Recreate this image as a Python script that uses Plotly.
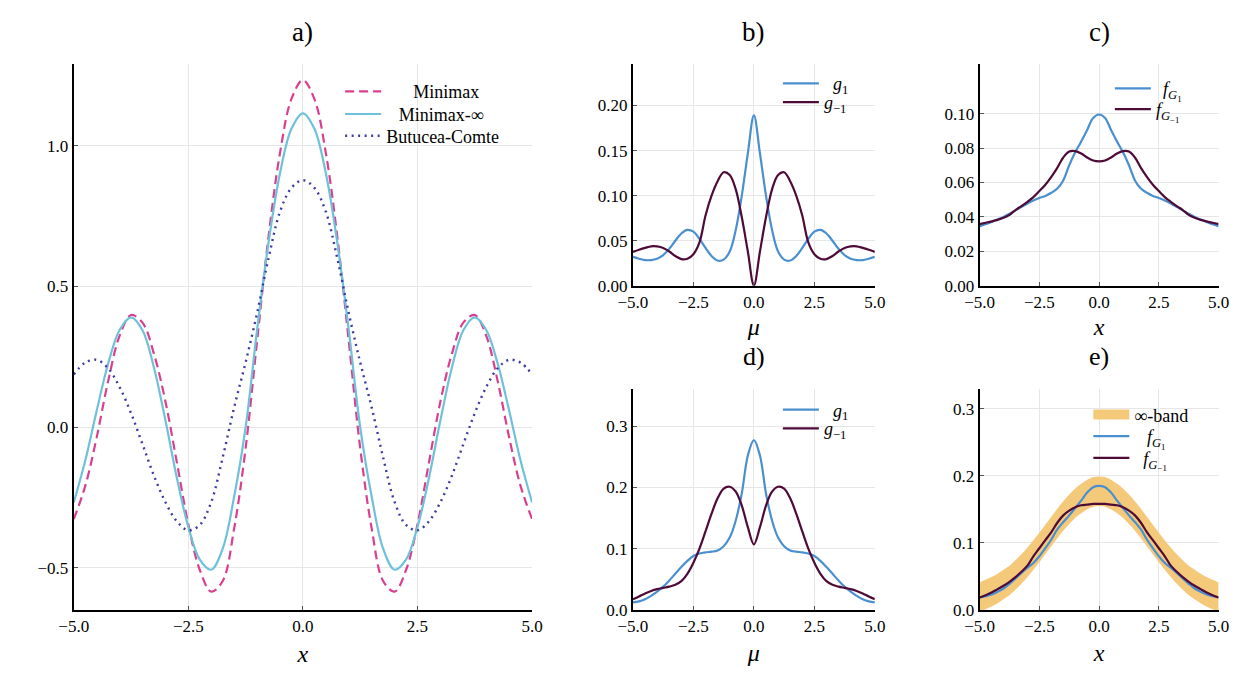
import plotly.graph_objects as go

# ---------------- data ----------------
x_grid = [-5.0, -4.75, -4.5, -4.25, -4.0, -3.75, -3.5, -3.25, -3.0, -2.75, -2.5, -2.25, -2.0, -1.75, -1.5, -1.25,
          -1.0, -0.75, -0.5, -0.25, 0.0, 0.25, 0.5, 0.75, 1.0, 1.25, 1.5, 1.75, 2.0, 2.25, 2.5, 2.75, 3.0, 3.25,
          3.5, 3.75, 4.0, 4.25, 4.5, 4.75, 5.0]

# panel a)
minimax = [-0.327, -0.210, -0.037, 0.163, 0.324, 0.398, 0.371, 0.260, 0.091, -0.126, -0.346, -0.508, -0.585, -0.547,
           -0.360, -0.075, 0.306, 0.677, 0.974, 1.166, 1.233, 1.166, 0.974, 0.677, 0.306, -0.075, -0.360, -0.547,
           -0.585, -0.508, -0.346, -0.126, 0.091, 0.260, 0.371, 0.398, 0.324, 0.163, -0.037, -0.210, -0.327]
minimax_inf = [-0.268, -0.120, 0.058, 0.225, 0.345, 0.390, 0.344, 0.211, 0.024, -0.181, -0.355, -0.471, -0.507, -0.432,
               -0.247, 0.000, 0.345, 0.656, 0.902, 1.060, 1.115, 1.060, 0.902, 0.656, 0.345, 0.000, -0.247, -0.432,
               -0.507, -0.471, -0.355, -0.181, 0.024, 0.211, 0.344, 0.390, 0.345, 0.225, 0.058, -0.120, -0.268]
butucea_comte = [0.187, 0.229, 0.239, 0.209, 0.142, 0.049, -0.061, -0.173, -0.267, -0.335, -0.367, -0.348, -0.266,
                 -0.108, 0.070, 0.230, 0.405, 0.600, 0.765, 0.850, 0.877, 0.850, 0.765, 0.600, 0.405, 0.230, 0.070,
                 -0.108, -0.266, -0.348, -0.367, -0.335, -0.267, -0.173, -0.061, 0.049, 0.142, 0.209, 0.239, 0.229,
                 0.187]

# panel b)
g1_b = [0.032, 0.030, 0.0285, 0.0285, 0.030, 0.034, 0.041, 0.050, 0.058, 0.062, 0.060, 0.052, 0.042, 0.033, 0.028,
        0.029, 0.038, 0.062, 0.100, 0.147, 0.189, 0.147, 0.100, 0.062, 0.038, 0.029, 0.028, 0.033, 0.042, 0.052,
        0.060, 0.062, 0.058, 0.050, 0.041, 0.034, 0.030, 0.0285, 0.0285, 0.030, 0.032]
gm1_b = [0.0376, 0.040, 0.042, 0.0438, 0.0437, 0.042, 0.038, 0.033, 0.0296, 0.030, 0.035, 0.048, 0.078, 0.100, 0.116,
         0.126, 0.123, 0.107, 0.076, 0.038, 0.000, 0.038, 0.076, 0.107, 0.123, 0.126, 0.116, 0.100, 0.078, 0.048,
         0.035, 0.030, 0.0296, 0.033, 0.038, 0.042, 0.0437, 0.0438, 0.042, 0.040, 0.0376]

# panel c)
fg1_c = [0.0345, 0.0357, 0.0370, 0.0385, 0.0400, 0.0418, 0.0438, 0.0458, 0.0478, 0.0495, 0.0510, 0.0522, 0.0540,
         0.0565, 0.0612, 0.0700, 0.0775, 0.0838, 0.0905, 0.0975, 0.0995, 0.0975, 0.0905, 0.0838, 0.0775, 0.0700,
         0.0612, 0.0565, 0.0540, 0.0522, 0.0510, 0.0495, 0.0478, 0.0458, 0.0438, 0.0418, 0.0400, 0.0385, 0.0370,
         0.0357, 0.0345]
fgm1_c = [0.0358, 0.0366, 0.0374, 0.0383, 0.0395, 0.0412, 0.0440, 0.0463, 0.0488, 0.0515, 0.0550, 0.0587, 0.0633,
          0.0685, 0.0745, 0.0780, 0.0782, 0.0768, 0.0745, 0.0728, 0.0723, 0.0728, 0.0745, 0.0768, 0.0782, 0.0780,
          0.0745, 0.0685, 0.0633, 0.0587, 0.0550, 0.0515, 0.0488, 0.0463, 0.0440, 0.0412, 0.0395, 0.0383, 0.0374,
          0.0366, 0.0358]

# panel d)
g1_d = [0.0123, 0.014, 0.0175, 0.023, 0.030, 0.038, 0.048, 0.059, 0.070, 0.080, 0.088, 0.092, 0.094, 0.095, 0.097,
        0.104, 0.118, 0.146, 0.190, 0.252, 0.277, 0.252, 0.190, 0.146, 0.118, 0.104, 0.097, 0.095, 0.094, 0.092,
        0.088, 0.080, 0.070, 0.059, 0.048, 0.038, 0.030, 0.023, 0.0175, 0.014, 0.0123]
gm1_d = [0.0176, 0.022, 0.027, 0.031, 0.034, 0.036, 0.038, 0.041, 0.047, 0.059, 0.077, 0.100, 0.128, 0.157, 0.182,
         0.198, 0.201, 0.193, 0.170, 0.135, 0.107, 0.135, 0.170, 0.193, 0.201, 0.198, 0.182, 0.157, 0.128, 0.100,
         0.077, 0.059, 0.047, 0.041, 0.038, 0.036, 0.034, 0.031, 0.027, 0.022, 0.0176]

# panel e)
band_upper = [0.041, 0.045, 0.049, 0.054, 0.060, 0.066, 0.074, 0.083, 0.093, 0.104, 0.115, 0.127, 0.139, 0.151, 0.162,
              0.172, 0.181, 0.188, 0.194, 0.198, 0.199, 0.198, 0.194, 0.188, 0.181, 0.172, 0.162, 0.151, 0.139, 0.127,
              0.115, 0.104, 0.093, 0.083, 0.074, 0.066, 0.060, 0.054, 0.049, 0.045, 0.041]
band_lower = [-0.003, 0.001, 0.005, 0.010, 0.016, 0.022, 0.030, 0.039, 0.049, 0.060, 0.071, 0.083, 0.095, 0.107, 0.118,
              0.128, 0.137, 0.144, 0.150, 0.154, 0.155, 0.154, 0.150, 0.144, 0.137, 0.128, 0.118, 0.107, 0.095, 0.083,
              0.071, 0.060, 0.049, 0.039, 0.030, 0.022, 0.016, 0.010, 0.005, 0.001, -0.003]
fg1_e = [0.0186, 0.0205, 0.023, 0.027, 0.032, 0.039, 0.047, 0.055, 0.063, 0.070, 0.080, 0.092, 0.105, 0.120, 0.131,
         0.141, 0.152, 0.163, 0.175, 0.183, 0.185, 0.183, 0.175, 0.163, 0.152, 0.141, 0.131, 0.120, 0.105, 0.092,
         0.080, 0.070, 0.063, 0.055, 0.047, 0.039, 0.032, 0.027, 0.023, 0.0205, 0.0186]
fgm1_e = [0.0186, 0.022, 0.026, 0.031, 0.036, 0.042, 0.049, 0.057, 0.066, 0.080, 0.092, 0.104, 0.116, 0.130, 0.141,
          0.148, 0.153, 0.156, 0.157, 0.158, 0.158, 0.158, 0.157, 0.156, 0.153, 0.148, 0.141, 0.130, 0.116, 0.104,
          0.092, 0.080, 0.066, 0.057, 0.049, 0.042, 0.036, 0.031, 0.026, 0.022, 0.0186]

x_ticks = [-5.0, -2.5, 0.0, 2.5, 5.0]
yticks_a = [-0.5, 0.0, 0.5, 1.0]
yticks_b = [0.0, 0.05, 0.10, 0.15, 0.20]
yticks_c = [0.0, 0.02, 0.04, 0.06, 0.08, 0.10]
yticks_d = [0.0, 0.1, 0.2, 0.3]
yticks_e = [0.0, 0.1, 0.2, 0.3]

# ---------------- style ----------------
W, H = 1257, 684
FONT = "Liberation Serif, Times New Roman, Tinos, DejaVu Serif, serif"
PINK = "#DA3F8E"
LIGHTBLUE = "#6EC1DA"
NAVY = "#3B3BA2"
BLUE = "#4A8FD0"
MAROON = "#4E0B38"
BAND = "#F4C97A"
GRID = "#E6E6E6"


def px_x(p):
    return p / W


def px_y(p):
    return 1 - p / H


fig = go.Figure()


def line(x, y, name, color, xa, ya, leg, dash="solid", width=2.2):
    fig.add_trace(go.Scatter(x=x, y=y, name=name, mode="lines", xaxis=xa, yaxis=ya, legend=leg,
                             line=dict(color=color, width=width, dash=dash, shape="spline", smoothing=1.0),
                             hoverinfo="skip"))


# a)
line(x_grid, minimax, "\u2002\u2002\u2002Minimax", PINK, "x", "y", "legend", dash="9px,5px", width=2.2)
line(x_grid, minimax_inf, "\u2002\u2009Minimax-\u221e", LIGHTBLUE, "x", "y", "legend2", width=2.2)
line(x_grid, butucea_comte, "Butucea-Comte", NAVY, "x", "y", "legend3", dash="2px,4.5px", width=2.4)
# b)
line(x_grid, g1_b, "\u2002<i>g</i><sub>1</sub>", BLUE, "x2", "y2", "legend4")
line(x_grid, gm1_b, "<i>g</i><sub>\u22121</sub>", MAROON, "x2", "y2", "legend5")
# c)
line(x_grid, fg1_c, "\u2009\u2009<i>f</i><sub><i>G</i><sub>1</sub></sub>", BLUE, "x3", "y3", "legend6")
line(x_grid, fgm1_c, "<i>f</i><sub><i>G</i><sub>\u22121</sub></sub>", MAROON, "x3", "y3", "legend7")
# d)
line(x_grid, g1_d, "\u2002<i>g</i><sub>1</sub>", BLUE, "x4", "y4", "legend8")
line(x_grid, gm1_d, "<i>g</i><sub>\u22121</sub>", MAROON, "x4", "y4", "legend9")
# e)
fig.add_trace(go.Scatter(x=x_grid, y=band_lower, mode="lines", xaxis="x5", yaxis="y5", showlegend=False,
                         line=dict(width=0, color=BAND, shape="spline"), hoverinfo="skip", legend="legend10"))
fig.add_trace(go.Scatter(x=x_grid, y=band_upper, mode="lines", name="\u221e-band", xaxis="x5", yaxis="y5",
                         fill="tonexty", fillcolor=BAND, line=dict(width=0, color=BAND, shape="spline"),
                         hoverinfo="skip", legend="legend10", showlegend=False))
# legend key for the band (thick swatch)
fig.add_trace(go.Scatter(x=[None], y=[None], mode="lines", name="\u221e-band", xaxis="x5", yaxis="y5",
                         line=dict(width=14, color=BAND), hoverinfo="skip", legend="legend10"))
line(x_grid, fg1_e, "\u2002\u2009<i>f</i><sub><i>G</i><sub>1</sub></sub>", BLUE, "x5", "y5", "legend11")
line(x_grid, fgm1_e, "\u2002<i>f</i><sub><i>G</i><sub>\u22121</sub></sub>", MAROON, "x5", "y5", "legend12")

# ---------------- axes ----------------
def axis_common(**kw):
    d = dict(showline=True, linecolor="black", linewidth=2, mirror=False, showgrid=True, gridcolor=GRID,
             gridwidth=1, zeroline=False, ticks="inside", ticklen=4, tickwidth=1, tickcolor="#555555",
             tickfont=dict(family=FONT, size=17, color="black"))
    d.update(kw)
    return d


def xaxis(x0, x1, ya, title, standoff=7):
    return axis_common(domain=[px_x(x0), px_x(x1)], range=[-5, 5], anchor=ya, tickvals=x_ticks,
                       tickformat=".1f",
                       title=dict(text=title, font=dict(family=FONT, size=24, color="black"), standoff=standoff))


def yaxis(y0, y1, xa, rng, tv, fmt):
    return axis_common(domain=[px_y(y1), px_y(y0)], range=rng, anchor=xa, tickvals=tv, tickformat=fmt)


# pixel frames (left, right, top, bottom)
A = (60, 528, 65, 619)
B = (631, 878, 65, 290)
C = (985, 1229, 65, 290)
D = (631, 878, 395, 619)
E = (985, 1229, 395, 619)

layout = dict(
    width=W, height=H, autosize=False,
    margin=dict(l=0, r=0, t=0, b=0),
    paper_bgcolor="white", plot_bgcolor="white",
    font=dict(family=FONT, color="black"),
    showlegend=True,
    xaxis=xaxis(A[0], A[1], "y", "<i>x</i>", standoff=10),
    yaxis=yaxis(A[2], A[3], "x", [-0.65, 1.29], yticks_a, ".1f"),
    xaxis2=xaxis(B[0], B[1], "y2", "<i>\u03bc</i>"),
    yaxis2=yaxis(B[2], B[3], "x2", [0, 0.246], yticks_b, ".2f"),
    xaxis3=xaxis(C[0], C[1], "y3", "<i>x</i>"),
    yaxis3=yaxis(C[2], C[3], "x3", [0, 0.1288], yticks_c, ".2f"),
    xaxis4=xaxis(D[0], D[1], "y4", "<i>\u03bc</i>", standoff=9),
    yaxis4=yaxis(D[2], D[3], "x4", [0, 0.36], yticks_d, ".1f"),
    xaxis5=xaxis(E[0], E[1], "y5", "<i>x</i>", standoff=9),
    yaxis5=yaxis(E[2], E[3], "x5", [0, 0.329], yticks_e, ".1f"),
)

# legends: one per entry, placed at pixel positions (line start x, row centre y)
leg_pos = {
    "legend": (346, 93), "legend2": (346, 116), "legend3": (346, 138),
    "legend4": (793, 85), "legend5": (793, 104),
    "legend6": (1132, 90), "legend7": (1132, 111),
    "legend8": (793, 416), "legend9": (793, 435),
    "legend10": (1110, 421), "legend11": (1110, 443), "legend12": (1110, 465),
}
for key, (lx, ly) in leg_pos.items():
    layout[key] = dict(x=px_x(lx - 14), y=px_y(ly), xanchor="left", yanchor="middle", visible=True,
                       bgcolor="rgba(0,0,0,0)", borderwidth=0, font=dict(family=FONT, size=18, color="black"),
                       itemwidth=36)

# panel labels
labels = [("a)", (A[0] + A[1]) / 2, 32, 27), ("b)", (B[0] + B[1]) / 2, 32, 27), ("c)", (C[0] + C[1]) / 2, 32, 27),
          ("d)", (D[0] + D[1]) / 2, 362, 26), ("e)", (E[0] + E[1]) / 2, 362, 26)]
layout["annotations"] = [dict(text=t, x=px_x(cx), y=px_y(cy), xref="paper", yref="paper", showarrow=False,
                              xanchor="center", yanchor="middle", font=dict(family=FONT, size=fs, color="black"))
                         for t, cx, cy, fs in labels]

fig.update_layout(**layout)
fig.write_html("out.html")
